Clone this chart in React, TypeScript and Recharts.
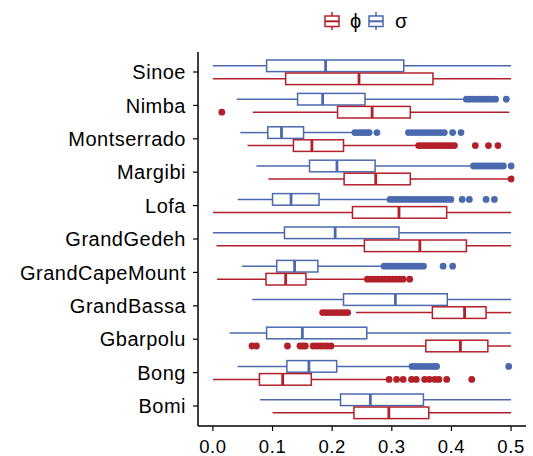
import { Bar, ComposedChart, XAxis, YAxis } from 'recharts';

// County order, top to bottom
const counties = [
  'Sinoe', 'Nimba', 'Montserrado', 'Margibi', 'Lofa', 'GrandGedeh',
  'GrandCapeMount', 'GrandBassa', 'Gbarpolu', 'Bong', 'Bomi',
];

// sigma (blue) box stats
const sigmaMin = [0.0, 0.04, 0.046, 0.073, 0.0415, 0.0, 0.049, 0.066, 0.028, 0.0415, 0.079];
const sigmaQ1 = [0.09, 0.142, 0.092, 0.162, 0.1, 0.12, 0.107, 0.219, 0.09, 0.124, 0.214];
const sigmaMed = [0.189, 0.184, 0.115, 0.208, 0.131, 0.205, 0.137, 0.306, 0.15, 0.161, 0.264];
const sigmaQ3 = [0.32, 0.255, 0.152, 0.272, 0.178, 0.312, 0.176, 0.393, 0.258, 0.2075, 0.353];
const sigmaMax = [0.5, 0.419, 0.235, 0.433, 0.294, 0.5, 0.283, 0.5, 0.5, 0.33, 0.5];
const sigmaOut = [
  [],
  [0.425, 0.43, 0.436, 0.441, 0.447, 0.452, 0.458, 0.463, 0.469, 0.474, 0.492],
  [0.238, 0.243, 0.248, 0.253, 0.258, 0.262, 0.275,
    0.328, 0.334, 0.34, 0.346, 0.352, 0.358, 0.364, 0.37, 0.376, 0.382, 0.388, 0.402, 0.416],
  [0.437, 0.442, 0.447, 0.452, 0.457, 0.462, 0.467, 0.472, 0.477, 0.482, 0.487, 0.5],
  [0.297, 0.303, 0.309, 0.315, 0.321, 0.327, 0.333, 0.339, 0.345, 0.351, 0.357, 0.363,
    0.369, 0.375, 0.381, 0.387, 0.393, 0.399, 0.418, 0.43, 0.458, 0.472],
  [],
  [0.287, 0.293, 0.299, 0.305, 0.311, 0.317, 0.323, 0.329, 0.335, 0.341, 0.347, 0.353, 0.386, 0.402],
  [],
  [],
  [0.334, 0.34, 0.346, 0.352, 0.358, 0.364, 0.37, 0.375, 0.496],
  [],
];

// phi (red) box stats
const phiMin = [0.0, 0.067, 0.058, 0.093, 0.0, 0.006, 0.007, 0.24, 0.202, 0.0, 0.1];
const phiQ1 = [0.122, 0.209, 0.135, 0.22, 0.234, 0.254, 0.089, 0.368, 0.357, 0.078, 0.2365];
const phiMed = [0.245, 0.267, 0.166, 0.273, 0.312, 0.347, 0.122, 0.422, 0.415, 0.117, 0.295];
const phiQ3 = [0.369, 0.331, 0.219, 0.331, 0.392, 0.425, 0.156, 0.458, 0.461, 0.165, 0.362];
const phiMax = [0.5, 0.497, 0.341, 0.497, 0.5, 0.5, 0.255, 0.5, 0.5, 0.294, 0.5];
const phiOut = [
  [],
  [0.015],
  [0.345, 0.35, 0.355, 0.36, 0.365, 0.37, 0.375, 0.38, 0.385, 0.39, 0.395, 0.4, 0.405, 0.44, 0.462, 0.478],
  [0.5],
  [],
  [],
  [0.259, 0.265, 0.271, 0.277, 0.283, 0.289, 0.295, 0.301, 0.307, 0.313, 0.319, 0.33],
  [0.184, 0.19, 0.196, 0.202, 0.208, 0.214, 0.22, 0.226],
  [0.0655, 0.073, 0.125, 0.146, 0.151, 0.155, 0.168, 0.174, 0.18, 0.186, 0.192, 0.198],
  [0.2955, 0.308, 0.319, 0.333, 0.341, 0.355, 0.363, 0.372, 0.379, 0.392, 0.434],
  [],
];

const xTicks = [0, 0.1, 0.2, 0.3, 0.4, 0.5];

const RED = '#B3202A';
const BLUE = '#4A69AF';
const FONT = '"Liberation Sans", Arial, Helvetica, sans-serif';

const stats = (mn: number[], q1: number[], md: number[], q3: number[], mx: number[], out: number[][], i: number) => ({
  lo: mn[i], q1: q1[i], med: md[i], q3: q3[i], hi: mx[i], out: out[i],
});

const rows = counties.map((county, i) => ({
  county,
  sigma: stats(sigmaMin, sigmaQ1, sigmaMed, sigmaQ3, sigmaMax, sigmaOut, i),
  phi: stats(phiMin, phiQ1, phiMed, phiQ3, phiMax, phiOut, i),
  sigmaRange: [sigmaMin[i], sigmaMax[i]],
  phiRange: [phiMin[i], phiMax[i]],
}));

// Draws a horizontal box plot inside the pixel span the bar got for [min, max]
function BoxShape(props: any, key: 'sigma' | 'phi', color: string) {
  const { x, y, width, height, payload } = props;
  const s = payload[key];
  const px = (v: number) => x + ((v - s.lo) / (s.hi - s.lo)) * width;
  const cy = y + height / 2;
  return (
    <g>
      <line x1={px(s.lo)} x2={px(s.q1)} y1={cy} y2={cy} stroke={color} strokeWidth={1.5} />
      <line x1={px(s.q3)} x2={px(s.hi)} y1={cy} y2={cy} stroke={color} strokeWidth={1.5} />
      <rect x={px(s.q1)} y={y + 0.7} width={px(s.q3) - px(s.q1)} height={height - 1.4}
        fill="#fff" stroke={color} strokeWidth={1.5} />
      <line x1={px(s.med)} x2={px(s.med)} y1={y + 0.7} y2={y + height - 0.7} stroke={color} strokeWidth={2.8} />
      {s.out.map((v: number, j: number) => (
        <circle key={j} cx={px(v)} cy={cy} r={3.4} fill={color} />
      ))}
    </g>
  );
}

function LegendKey({ x, color }: { x: number; color: string }) {
  return (
    <g stroke={color} strokeWidth={1.5} fill="#fff">
      <line x1={x + 7} x2={x + 7} y1={12} y2={30} />
      <rect x={x} y={16} width={14} height={10.5} />
      <line x1={x} x2={x + 14} y1={21.3} y2={21.3} strokeWidth={2} />
    </g>
  );
}

export default function App() {
  return (
    <div style={{ position: 'absolute', left: 0, top: 0, width: 533, height: 456, background: '#fff' }}>
      <ComposedChart
        layout="vertical"
        width={533}
        height={456}
        data={rows}
        margin={{ top: 52, right: 7, bottom: 0, left: 8 }}
        barGap={0}
        barSize={13}
      >
        <XAxis
          type="number"
          domain={[-0.025, 0.525]}
          ticks={xTicks}
          allowDataOverflow
          tickFormatter={(v: number) => v.toFixed(1)}
          height={30}
          tickSize={5}
          tickMargin={9}
          axisLine={{ stroke: '#000', strokeWidth: 1.5 }}
          tickLine={{ stroke: '#000', strokeWidth: 1.2 }}
          tick={{ fill: '#000', fontSize: 18.5, fontFamily: FONT, letterSpacing: 0.6 }}
        />
        <YAxis
          type="category"
          dataKey="county"
          width={190}
          padding={{ top: 3.3, bottom: 3.3 }}
          interval={0}
          tickSize={5}
          tickMargin={7}
          axisLine={{ stroke: '#000', strokeWidth: 1.5 }}
          tickLine={{ stroke: '#000', strokeWidth: 1.2 }}
          tick={{ fill: '#000', fontSize: 20, fontFamily: FONT, letterSpacing: 0.5 }}
        />
        <Bar dataKey="sigmaRange" isAnimationActive={false} shape={(p: any) => BoxShape(p, 'sigma', BLUE)} />
        <Bar dataKey="phiRange" isAnimationActive={false} shape={(p: any) => BoxShape(p, 'phi', RED)} />
      </ComposedChart>
      <svg width={533} height={40} style={{ position: 'absolute', left: 0, top: 0 }}>
        <LegendKey x={325} color={RED} />
        <text x={350} y={28} fontSize={20} fontFamily={FONT} fill="#000">ϕ</text>
        <LegendKey x={369} color={BLUE} />
        <text x={395} y={28} fontSize={20} fontFamily={FONT} fill="#000">σ</text>
      </svg>
    </div>
  );
}
